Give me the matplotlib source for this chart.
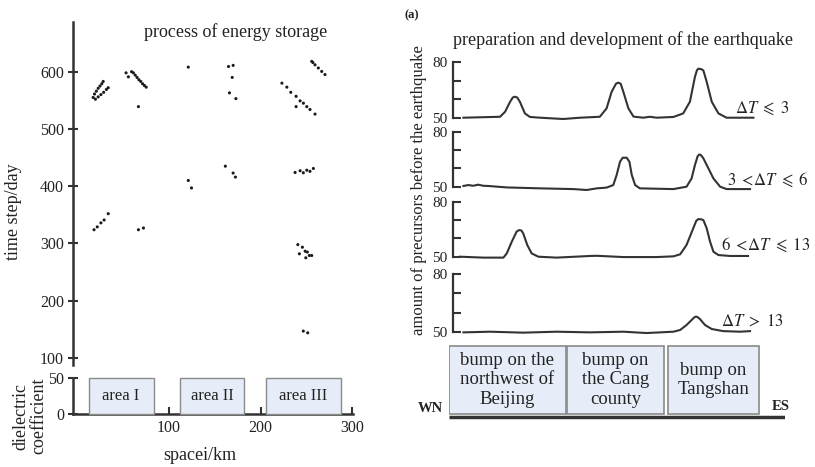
import matplotlib
matplotlib.use("Agg")
import matplotlib.pyplot as plt
from matplotlib.patches import Rectangle

plt.rcParams['font.family'] = ['Liberation Serif', 'DejaVu Serif']
plt.rcParams['mathtext.fontset'] = 'stix'

# ---------------- data: left panel ----------------
scatter_x = [17, 18.5, 20.5, 22.5, 24.5, 26.5, 28,
             19.5, 22.5, 25.5, 28.5, 31.5, 33.5,
             53, 55.5, 59, 61, 63, 65, 67, 69, 71, 73, 75,
             66.5, 121,
             165, 170, 169, 166, 173,
             223.3, 228.7, 233, 238.8, 243.2, 246.8, 250.5, 254, 259.5, 238.8,
             255.9, 257.2, 259.5, 263.1, 266.8, 270.4,
             121, 124.5, 161.5, 170, 172.5,
             237.7, 243.2, 246.7, 250.5, 254, 257.7,
             18, 21.5, 25.5, 29, 33.5, 66.5, 72,
             240.7, 245.7, 242.4, 248.7, 251.1, 253.3, 255.9, 249.4,
             246.7, 251.5]
scatter_y = [555, 561, 566, 571, 575, 579, 583,
             552, 556, 560, 564, 569, 572,
             598, 591, 600, 598, 594, 590, 586, 583, 579, 576, 573,
             539, 608,
             609, 611, 590, 563, 553,
             580, 573, 564, 557, 549, 545, 539, 534, 526, 539,
             618, 616, 612, 606.5, 600.5, 595,
             410, 397, 435, 423, 416,
             424, 427, 423.5, 428, 426, 431,
             324, 329, 336, 341, 352, 324, 327,
             298, 293.5, 282, 286.5, 285, 279, 279, 275,
             147, 144]
left_yticks = [100, 200, 300, 400, 500, 600]
left_xticks = [100, 200, 300]
area_names = ['area I', 'area II', 'area III']
area_x0 = [12, 112, 206]
area_x1 = [83, 182, 288]
area_top = 50

# ---------------- data: right panel ----------------
c1_x = [4.3, 15.2, 16.7, 18.2, 19.0, 19.6, 20.3, 21.1, 22.6, 24.1, 27.1, 34.0, 39.0, 44.9,
        46.9, 48.4, 49.7, 50.4, 51.1, 51.9, 53.4, 54.9, 57.8, 59.8, 61.8, 66.8, 69.7, 71.7,
        73.2, 73.8, 74.2, 75.0, 75.7, 76.7, 78.2, 80.2, 82.6, 90.6]
c1_y = [50.0, 50.5, 53.2, 58.6, 60.9, 61.3, 60.9, 58.6, 52.3, 50.4, 50.0, 49.3, 50.0, 50.5,
        55.0, 63.9, 68.3, 68.9, 68.3, 63.9, 55.0, 50.6, 50.0, 50.5, 50.0, 50.4, 52.3, 58.6,
        72.0, 75.6, 76.4, 76.2, 75.5, 69.3, 58.6, 52.3, 50.0, 50.0]
c2_x = [4.3, 5.8, 7.2, 8.7, 10.2, 11.7, 17.2, 27.1, 37.0, 41.0, 44.0, 46.9,
        48.9, 49.9, 50.9, 51.7, 52.9, 53.7, 54.4, 55.4, 56.8, 66.8,
        70.7, 72.2, 73.2, 74.0, 74.5, 75.0, 75.7, 77.2, 78.7, 80.7, 82.6, 89.6]
c2_y = [50.4, 50.9, 50.5, 51.1, 50.5, 50.4, 49.6, 49.1, 48.7, 48.2, 49.1, 49.5,
        50.9, 56.4, 63.6, 65.8, 65.8, 63.6, 56.4, 50.9, 49.1, 48.7,
        50.0, 54.5, 61.8, 66.6, 67.6, 67.2, 65.5, 60.0, 54.5, 50.0, 48.7, 48.7]
c3_x = [3.3, 10.2, 16.2, 17.2, 18.7, 20.1, 20.6, 21.1, 21.6, 22.1, 23.3, 24.6, 26.6, 32.0,
        42.0, 44.0, 51.9, 61.8, 66.8, 68.8, 70.7, 72.7, 73.6, 74.2, 75.0, 75.7, 76.7,
        77.7, 78.7, 80.2, 83.6, 89.0]
c3_y = [50.0, 49.5, 49.5, 51.8, 58.2, 63.6, 64.3, 64.5, 64.2, 62.7, 56.4, 51.8, 50.0, 49.5,
        50.4, 50.5, 49.8, 49.8, 50.2, 51.3, 56.4, 65.5, 69.6, 70.5, 70.4, 70.0, 65.5,
        58.2, 52.7, 50.9, 50.4, 50.4]
c4_x = [4.3, 12.2, 22.1, 32.0, 42.0, 51.9, 58.8, 66.8, 68.8, 70.7, 72.2, 73.0, 73.5,
        74.0, 74.7, 76.2, 78.2, 81.6, 86.6, 89.6]
c4_y = [49.65, 50.0, 49.5, 50.0, 49.65, 50.0, 49.3, 50.0, 50.9, 53.5, 56.1, 57.5, 57.9,
        57.6, 56.6, 53.5, 51.4, 50.3, 50.0, 50.3]
curves_x = [c1_x, c2_x, c3_x, c4_x]
curves_y = [c1_y, c2_y, c3_y, c4_y]
dT_labels = [r"$\mathit{\Delta T}\ \leqslant\ 3$", r"$3\ <\!\mathit{\Delta T}\ \leqslant\ 6$",
             r"$6\ <\!\mathit{\Delta T}\ \leqslant\ 13$", r"$\mathit{\Delta T}\ >\ 13$"]
amount_ticks = [50, 60, 70, 80]
amount_ticklabels = ['50', '', '', '80']
bump_labels = ["bump on the\nnorthwest of\nBeijing", "bump on\nthe Cang\ncounty",
               "bump on\nTangshan"]
bump_x0 = [0, 35.1, 65.2]
bump_x1 = [34.8, 64.0, 92.3]

# ---------------- layout helpers ----------------
W, H = 815, 467
fig = plt.figure(figsize=(W / 100, H / 100), dpi=100)


def rect(x0, y0, x1, y1):
    return [x0 / W, 1 - y1 / H, (x1 - x0) / W, (y1 - y0) / H]


def ftext(x, y, s, **kw):
    fig.text(x / W, 1 - y / H, s, **kw)


TXT = '#222222'
BOXFACE = '#e7edf8'
BOXEDGE = '#8a8a8a'

# ---------------- left: scatter ----------------
ax = fig.add_axes(rect(73, 22, 353, 365))
ax.scatter(scatter_x, scatter_y, s=5, color='#1a1a1a', edgecolors='none')
ax.set_xlim(-5, 301)
ax.set_ylim(87.8, 686.8)
for sp in ['top', 'right', 'bottom']:
    ax.spines[sp].set_visible(False)
ax.spines['left'].set_linewidth(1.8)
ax.spines['left'].set_color('#333333')
ax.set_yticks(left_yticks)
ax.set_xticks([])
ax.tick_params(axis='y', direction='inout', length=7, width=1.5, color='#333333',
               labelsize=11.5, labelcolor=TXT, pad=3)

ax2 = fig.add_axes(rect(73, 378, 353, 414))
ax2.set_xlim(-5, 301)
ax2.set_ylim(0, area_top)
for sp in ['top', 'right']:
    ax2.spines[sp].set_visible(False)
for sp in ['left', 'bottom']:
    ax2.spines[sp].set_linewidth(1.8)
    ax2.spines[sp].set_color('#333333')
ax2.set_yticks([0, 50])
ax2.set_xticks(left_xticks)
ax2.tick_params(axis='y', direction='inout', length=7, width=1.5, color='#333333',
                labelsize=11.5, labelcolor=TXT, pad=3)
ax2.tick_params(axis='x', direction='in', length=5, width=1.5, color='#333333',
                labelsize=11.5, labelcolor=TXT, pad=4)
for name, x0, x1 in zip(area_names, area_x0, area_x1):
    ax2.add_patch(Rectangle((x0, 0), x1 - x0, area_top, facecolor=BOXFACE,
                            edgecolor=BOXEDGE, linewidth=1.0, zorder=3, clip_on=False))
    ax2.text((x0 + x1) / 2, area_top / 2, name, ha='center', va='center',
             fontsize=12, color=TXT, zorder=4)

ftext(236, 32, "process of energy storage", ha='center', va='center', fontsize=13, color=TXT)
ftext(13, 212, "time step/day", ha='center', va='center', rotation=90, fontsize=13, color=TXT)
ftext(30, 416, "dielectric\ncoefficient", ha='center', va='center', rotation=90,
      fontsize=13, color=TXT, linespacing=1.1)
ftext(200, 455, "spacei/km", ha='center', va='center', fontsize=13, color=TXT)

# ---------------- right: stacked curves ----------------
panel_px = [(62, 117.7), (131.7, 186.7), (201.7, 256.7), (274.3, 331.7)]
label_pos = [(762, 108), (768, 180), (766, 245), (752, 322)]
for (top, bot), cx, cy, lab, (lx, ly) in zip(panel_px, curves_x, curves_y, dT_labels, label_pos):
    a = fig.add_axes(rect(453, top, 785, bot))
    a.patch.set_alpha(0)
    a.plot(cx, cy, color='#333333', linewidth=1.5, clip_on=False)
    a.set_xlim(1.2, 100)
    a.set_ylim(50, 80)
    for sp in ['top', 'right', 'bottom']:
        a.spines[sp].set_visible(False)
    a.spines['left'].set_linewidth(1.6)
    a.spines['left'].set_color('#333333')
    a.set_xticks([])
    a.set_yticks(amount_ticks)
    a.set_yticklabels(amount_ticklabels)
    a.tick_params(axis='y', direction='in', length=6, width=1.5, color='#333333',
                  labelsize=11, labelcolor=TXT, pad=4)
    ftext(lx, ly, lab, ha='center', va='center', fontsize=12, color=TXT)

ab = fig.add_axes(rect(449, 340, 785, 420))
ab.patch.set_alpha(0)
ab.set_xlim(0, 100)
ab.set_ylim(0, 1)
ab.axis('off')
for lab, x0, x1 in zip(bump_labels, bump_x0, bump_x1):
    ab.add_patch(Rectangle((x0, 0.075), x1 - x0, 0.85, facecolor=BOXFACE,
                           edgecolor=BOXEDGE, linewidth=1.2))
    ab.text((x0 + x1) / 2, 0.5, lab, ha='center', va='center', fontsize=13.5,
            color=TXT, linespacing=1.22)
ab.plot([0, 100], [0.035, 0.035], color='#333333', linewidth=2.5, solid_capstyle='butt')

ftext(430, 408, "WN", ha='center', va='center', fontsize=10.5, fontweight='bold', color=TXT)
ftext(781, 406, "ES", ha='center', va='center', fontsize=10.5, fontweight='bold', color=TXT)
ftext(623, 40, "preparation and development of the earthquake", ha='center', va='center',
      fontsize=13, color=TXT)
ftext(412, 15, "(a)", ha='center', va='center', fontsize=9, fontweight='bold', color=TXT)
ftext(419, 190, "amount of precursors before the earthquake", ha='center', va='center',
      rotation=90, fontsize=12, color=TXT)

fig.savefig("out.png", dpi=100)
